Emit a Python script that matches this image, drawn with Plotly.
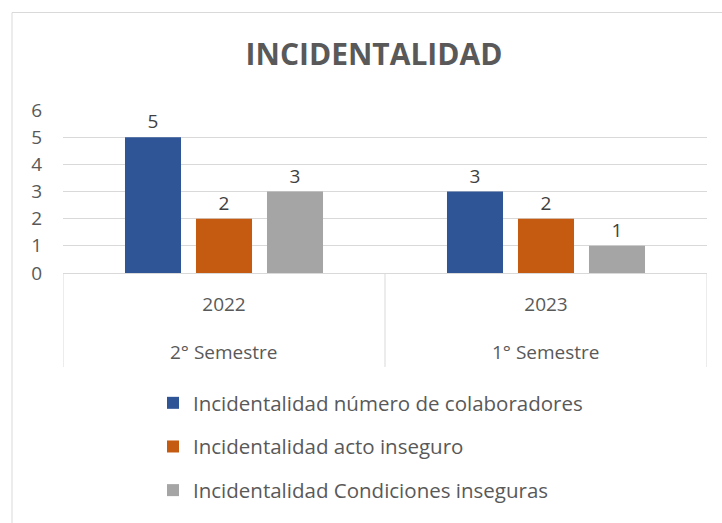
import plotly.graph_objects as go

# ---- data ----
years = ["2022", "2023"]
semestres = ["2° Semestre", "1° Semestre"]
series_names = [
    "Incidentalidad número de colaboradores",
    "Incidentalidad acto inseguro",
    "Incidentalidad Condiciones inseguras",
]
colaboradores = [5, 3]
acto_inseguro = [2, 2]
condiciones_inseguras = [3, 1]
y_ticks = [0, 1, 2, 3, 4, 5, 6]

colors = ["#2F5597", "#C55A11", "#A5A5A5"]
values = [colaboradores, acto_inseguro, condiciones_inseguras]

FONT = "Open Sans"
TXT = "#595959"
GRID = "#D9D9D9"

W, H = 722, 523
L, R, T, B = 63, 15, 110, 250
pw = W - L - R
ph = H - T - B

def px_x(p):
    return (p - L) / pw

def px_y(p):
    return (H - B - p) / ph

fig = go.Figure()
for i, (name, vals, col) in enumerate(zip(series_names, values, colors)):
    fig.add_trace(go.Bar(
        name=name,
        x=years,
        y=vals,
        marker=dict(color=col, line=dict(width=0)),
        text=vals,
        textposition="outside",
        textfont=dict(family=FONT, size=19, color="#404040"),
        cliponaxis=False,
        legendgroup=f"g{i}",
    ))

# second category level (semester) below the year labels
annotations = [
    dict(x=k, y=px_y(352), xref="x", yref="paper", text=sem,
         showarrow=False, xanchor="center", yanchor="middle",
         font=dict(family=FONT, size=19, color=TXT))
    for k, sem in enumerate(semestres)
]

# category dividers (at category boundaries)
shapes = [
    dict(type="line", xref="x", yref="paper",
         x0=k - 0.5, x1=k - 0.5, y0=0, y1=px_y(367),
         line=dict(color=GRID, width=1))
    for k in range(len(years) + 1)
]
shapes.append(dict(
    type="rect", xref="paper", yref="paper",
    x0=px_x(12), x1=px_x(740), y0=px_y(540), y1=px_y(12.5),
    line=dict(color=GRID, width=1), fillcolor="rgba(0,0,0,0)",
    layer="below",
))

fig.update_layout(
    width=W, height=H,
    margin=dict(l=L, r=R, t=T, b=B, autoexpand=False),
    paper_bgcolor="white",
    plot_bgcolor="white",
    barmode="group",
    bargap=0.3385,
    bargroupgap=0.211,
    title=dict(
        text="<b>INCIDENTALIDAD</b>",
        font=dict(family=FONT, size=30, color=TXT),
        x=374 / W, xanchor="center",
        y=1 - 54 / H, yanchor="middle", yref="container",
    ),
    font=dict(family=FONT, size=19, color=TXT),
    showlegend=True,
    legend=dict(
        orientation="v",
        x=px_x(153), xanchor="left",
        y=px_y(383), yanchor="top",
        font=dict(family=FONT, size=20.5, color=TXT),
        tracegroupgap=14,
        bgcolor="rgba(0,0,0,0)",
    ),
    xaxis=dict(
        type="category",
        automargin=False,
        range=[-0.5, len(years) - 0.5],
        showline=True, linecolor=GRID, linewidth=1,
        showgrid=False,
        tickfont=dict(family=FONT, size=19, color=TXT),
        ticks="",
        ticklabelstandoff=14,
    ),
    yaxis=dict(
        automargin=False,
        range=[0, 6],
        tickvals=y_ticks,
        showgrid=True, gridcolor=GRID, gridwidth=1,
        zeroline=False,
        showline=False,
        tickfont=dict(family=FONT, size=19, color=TXT),
        ticks="",
        ticklabelstandoff=20,
    ),
    shapes=shapes,
    annotations=annotations,
)

fig.write_html(
    "out.html",
    config={"displayModeBar": False},
    post_script="document.body.style.margin='0';",
)
